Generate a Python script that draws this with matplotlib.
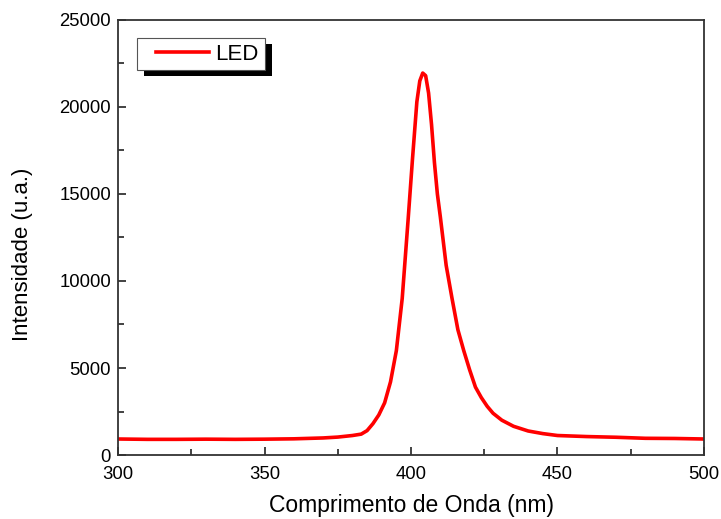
import matplotlib
matplotlib.use('Agg')
import matplotlib.pyplot as plt
from matplotlib.patches import Rectangle
from matplotlib.ticker import MultipleLocator

plt.rcParams['font.family'] = ['Liberation Sans', 'DejaVu Sans']

# LED emission spectrum
wavelength = [300, 310, 320, 330, 340, 350, 360, 370, 375, 380, 383, 385, 387,
              389, 391, 393, 395, 397, 399, 400.5, 402, 403, 404, 405, 406,
              407, 408, 409, 410, 412, 414, 416, 418, 420, 422, 424, 426, 428,
              431, 435, 440, 445, 450, 460, 470, 480, 490, 500]
intensity = [920, 900, 900, 910, 900, 910, 930, 980, 1030, 1120, 1200, 1400,
             1800, 2300, 3000, 4200, 6000, 9000, 13500, 17000, 20300, 21500,
             21950, 21800, 20800, 19000, 16800, 15000, 13700, 10900, 9000,
             7200, 6000, 4900, 3900, 3300, 2800, 2400, 2000, 1650, 1380, 1230,
             1120, 1060, 1020, 960, 950, 920]

fig = plt.figure(figsize=(7.21, 5.19), dpi=100)
ax = fig.add_axes([0.1637, 0.1233, 0.8127, 0.8382])

ax.plot(wavelength, intensity, color='#ff0000', linewidth=2.6, label='LED')

ax.set_xlim(300, 500)
ax.set_ylim(0, 25000)
ax.xaxis.set_major_locator(MultipleLocator(50))
ax.xaxis.set_minor_locator(MultipleLocator(25))
ax.yaxis.set_major_locator(MultipleLocator(5000))
ax.yaxis.set_minor_locator(MultipleLocator(2500))
ax.tick_params(which='both', direction='in', top=False, right=False,
               color='#222222', labelsize=13.3)
ax.tick_params(which='major', length=6, width=1.2)
ax.tick_params(which='minor', length=4, width=1.2)
ax.tick_params(axis='x', which='major', pad=8)
ax.tick_params(axis='y', which='major', pad=5)
for s in ax.spines.values():
    s.set_linewidth(1.3)
    s.set_color('#333333')

ax.set_xlabel('Comprimento de Onda (nm)', fontsize=16.5)
ax.set_ylabel('Intensidade (u.a.)', fontsize=16)
ax.xaxis.set_label_coords(0.5, -0.089)
ax.yaxis.set_label_coords(-0.145, 0.461)

leg = ax.legend(loc='upper left', bbox_to_anchor=(0.0546, 0.9586),
                fontsize=16, handlelength=2.4, borderpad=0.25,
                handletextpad=0.3, borderaxespad=0, frameon=False)

# legend box with extra left padding and a black drop shadow
fig.canvas.draw()
bb = leg.get_window_extent()
x0, y0 = bb.x0 - 13, bb.y0
w, h = bb.width + 13, bb.height
shadow = Rectangle((x0 + 7, y0 - 6), w, h, transform=None,
                   facecolor='black', edgecolor='none', zorder=4)
frame = Rectangle((x0, y0), w, h, transform=None, facecolor='white',
                  edgecolor='#555555', linewidth=0.8, zorder=4.5)
ax.add_artist(shadow)
ax.add_artist(frame)
leg.set_zorder(5)

fig.savefig('out.png', dpi=100)
